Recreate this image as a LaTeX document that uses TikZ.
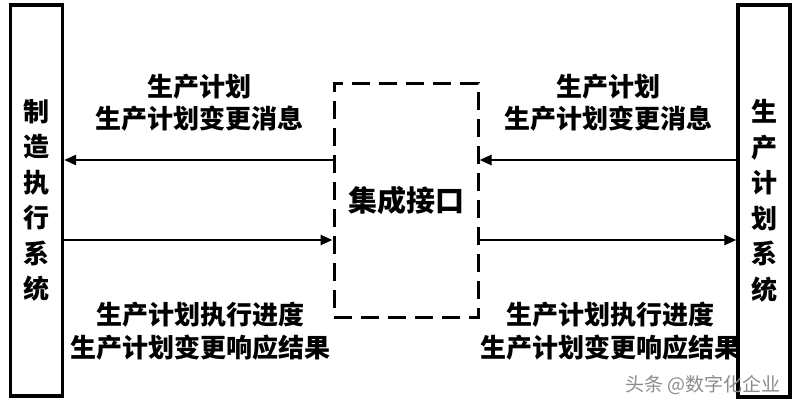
\documentclass[tikz,border=0pt]{standalone}
\usepackage{fontspec}
\newfontfamily\cjk{Noto Sans CJK SC}
\usetikzlibrary{arrows.meta}
\begin{document}
\begin{tikzpicture}[x=1pt,y=-1pt,
  sysbox/.style={draw,line width=3.2pt,minimum width=52pt,align=center,inner sep=0pt,
    font={\cjk\bfseries\fontsize{26}{35.5}\selectfont}},
  ifbox/.style={draw,line width=3pt,dash pattern=on 18pt off 9pt,minimum width=144pt,minimum height=234pt,
    font={\cjk\bfseries\fontsize{29}{30}\selectfont}},
  lbl/.style={align=center,inner sep=0pt,font={\cjk\bfseries\fontsize{26}{32.5}\selectfont}},
  arr/.style={line width=2.4pt,-{Triangle[length=12pt,width=10pt]}},
  wm/.style={text=black!45,font={\cjk\fontsize{19}{20}\selectfont},inner sep=0pt}]
\useasboundingbox (0,0) rectangle (800,407);
\node[sysbox,minimum height=391pt] (lsys) at (36.5,200.5) {制\\造\\执\\行\\系\\统};
\node[sysbox,minimum height=392pt] (rsys) at (764,201) {生\\产\\计\\划\\系\\统};
\node[ifbox] (iface) at (406,200) {集成接口};
\coordinate (u) at (0,160);
\coordinate (d) at (0,240);
\draw[arr] (iface.west |- u) -- (lsys.east |- u);
\draw[arr] (lsys.east |- d) -- (iface.west |- d);
\draw[arr] (rsys.west |- u) -- (iface.east |- u);
\draw[arr] (iface.east |- d) -- (rsys.west |- d);
\node[lbl] (lt) at (199.5,102.5) {生产计划\\生产计划变更消息};
\node[lbl] (lb) at (200.5,331) {生产计划执行进度\\生产计划变更响应结果};
\node[lbl] (rt) at (608,102.5) {生产计划\\生产计划变更消息};
\node[lbl] (rb) at (610,331) {生产计划执行进度\\生产计划变更响应结果};
\node[wm] (wmk) at (703,385) {头条 @数字化企业};
\end{tikzpicture}
\end{document}
